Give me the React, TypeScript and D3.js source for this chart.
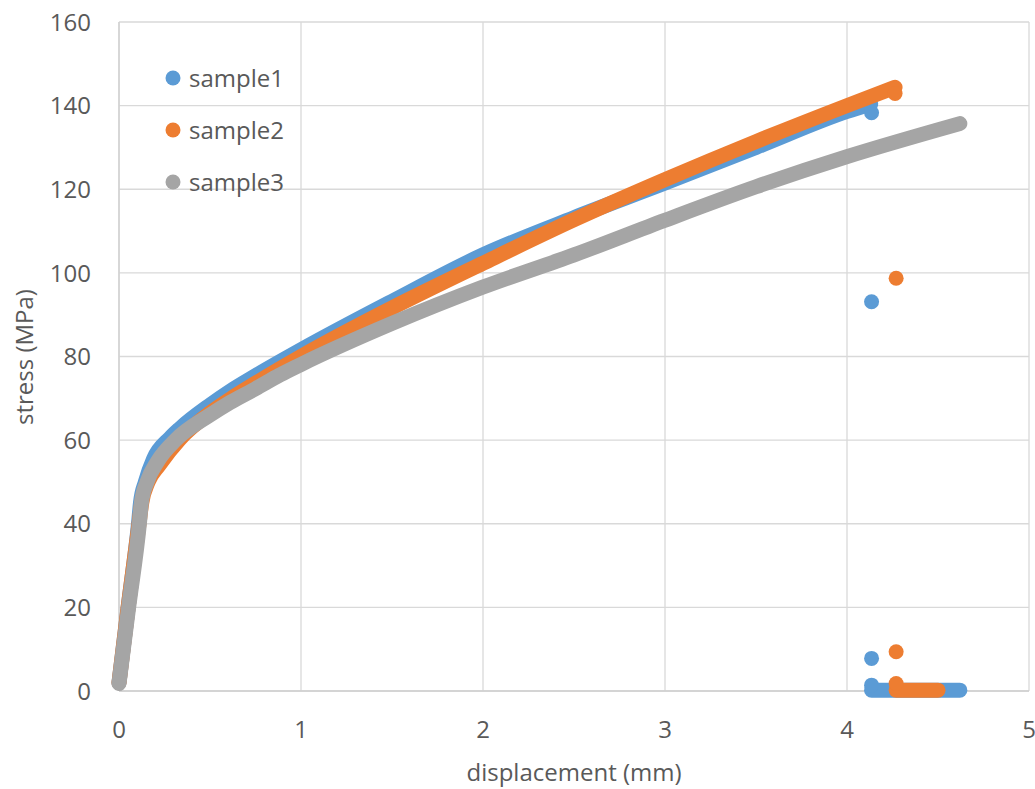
import React from "react";
import * as d3 from "d3";

// ---- data ----
const xTicks = [0, 1, 2, 3, 4, 5];
const yTicks = [0, 20, 40, 60, 80, 100, 120, 140, 160];

// sample1 (blue)
const s1Disp = [0, 0.05, 0.107, 0.118, 0.145, 0.19, 0.28, 0.335, 0.5, 0.61, 0.75, 1, 1.5, 2, 2.5, 3, 3.5, 4, 4.13];
const s1Stress = [2, 20, 40, 45, 50, 55.5, 60.5, 62.8, 68.4, 71.7, 75.4, 81.6, 93.2, 104.3, 113.2, 121.5, 130, 138.6, 140.4];
const s1Drop = [[4.135, 138.3], [4.135, 93.1], [4.135, 7.8], [4.135, 1.4]];
const s1Tail = [[4.135, 0.2], [4.62, 0.2]];

// sample2 (orange)
const s2Disp = [0, 0.05, 0.11, 0.125, 0.16, 0.22, 0.335, 0.5, 0.61, 0.75, 1, 1.5, 2, 2.5, 3, 3.5, 4, 4.264];
const s2Stress = [2, 20, 40, 45, 50, 54, 60.3, 66.5, 69.8, 73.6, 80, 91.6, 102.3, 112.7, 122.3, 131.4, 140, 144.4];
const s2Drop = [[4.264, 142.9], [4.27, 98.7], [4.27, 9.4], [4.27, 1.8]];
const s2Tail = [[4.27, 0.2], [4.5, 0.2]];

// sample3 (gray)
const s3Disp = [0, 0.053, 0.112, 0.123, 0.154, 0.213, 0.31, 0.5, 0.61, 0.75, 0.885, 1, 1.5, 2, 2.5, 3, 3.5, 4, 4.62];
const s3Stress = [1.8, 20, 40, 45, 50, 55, 60, 66, 69, 72.3, 75.6, 78.1, 87.9, 96.6, 104.3, 112.6, 120.6, 127.8, 135.7];
const s3Drop: number[][] = [];
const s3Tail: number[][] = [];

const seriesNames = ["sample1", "sample2", "sample3"];
const seriesColors = ["#5B9BD5", "#ED7D31", "#A5A5A5"];

const W = 1035;
const H = 789;
const FONT = "'Open Sans', sans-serif";
const TEXT = "#595959";
const GRID = "#d9d9d9";
const R = 7.5;

export default function App() {
  const x = d3.scaleLinear().domain([0, 5]).range([119, 1029]);
  const y = d3.scaleLinear().domain([0, 160]).range([691, 22]);

  const series = [
    { disp: s1Disp, stress: s1Stress, drop: s1Drop, tail: s1Tail },
    { disp: s2Disp, stress: s2Stress, drop: s2Drop, tail: s2Tail },
    { disp: s3Disp, stress: s3Stress, drop: s3Drop, tail: s3Tail },
  ];

  const line = d3
    .line<[number, number]>()
    .x((d) => x(d[0]))
    .y((d) => y(d[1]))
    .curve(d3.curveMonotoneX);
  const straight = d3
    .line<number[]>()
    .x((d) => x(d[0]))
    .y((d) => y(d[1]));

  return (
    <svg
      width={W}
      height={H}
      style={{ position: "absolute", left: 0, top: 0, background: "#fff" }}
      fontFamily={FONT}
    >
      {/* grid */}
      {yTicks.map((t) => (
        <line key={"gy" + t} x1={x(0)} x2={x(5)} y1={y(t)} y2={y(t)} stroke={GRID} strokeWidth={1.3} />
      ))}
      {xTicks.map((t) => (
        <line key={"gx" + t} x1={x(t)} x2={x(t)} y1={y(0)} y2={y(160)} stroke={GRID} strokeWidth={1.3} />
      ))}
      <line x1={x(0)} x2={x(5)} y1={y(0)} y2={y(0)} stroke="#cfcfcf" strokeWidth={1.3} />
      <line x1={x(0)} x2={x(0)} y1={y(0)} y2={y(160)} stroke="#cfcfcf" strokeWidth={1.3} />

      {/* tick labels */}
      {yTicks.map((t) => (
        <text key={"ly" + t} x={91} y={y(t)} dy="0.36em" textAnchor="end" fontSize={24} fill={TEXT}>
          {t}
        </text>
      ))}
      {xTicks.map((t) => (
        <text key={"lx" + t} x={x(t)} y={738} textAnchor="middle" fontSize={24} fill={TEXT}>
          {t}
        </text>
      ))}

      {/* axis titles */}
      <text x={574} y={781} textAnchor="middle" fontSize={24} fill={TEXT}>
        displacement (mm)
      </text>
      <text transform="translate(33,357) rotate(-90)" textAnchor="middle" fontSize={24} fill={TEXT}>
        stress (MPa)
      </text>

      {/* series */}
      {series.map((s, i) => {
        const pts = s.disp.map((d, k) => [d, s.stress[k]] as [number, number]);
        return (
          <g key={"s" + i}>
            <path
              d={line(pts) || ""}
              fill="none"
              stroke={seriesColors[i]}
              strokeWidth={R * 2}
              strokeLinecap="round"
              strokeLinejoin="round"
            />
            {s.tail.length > 0 && (
              <path
                d={straight(s.tail) || ""}
                fill="none"
                stroke={seriesColors[i]}
                strokeWidth={R * 2}
                strokeLinecap="round"
              />
            )}
            {s.drop.map((p, k) => (
              <circle key={k} cx={x(p[0])} cy={y(p[1])} r={R} fill={seriesColors[i]} />
            ))}
          </g>
        );
      })}

      {/* legend */}
      {seriesNames.map((n, i) => (
        <g key={"lg" + i}>
          <circle cx={173} cy={78 + i * 52} r={R} fill={seriesColors[i]} />
          <text x={189} y={78 + i * 52 + 9} fontSize={24} fill={TEXT}>
            {n}
          </text>
        </g>
      ))}
    </svg>
  );
}
